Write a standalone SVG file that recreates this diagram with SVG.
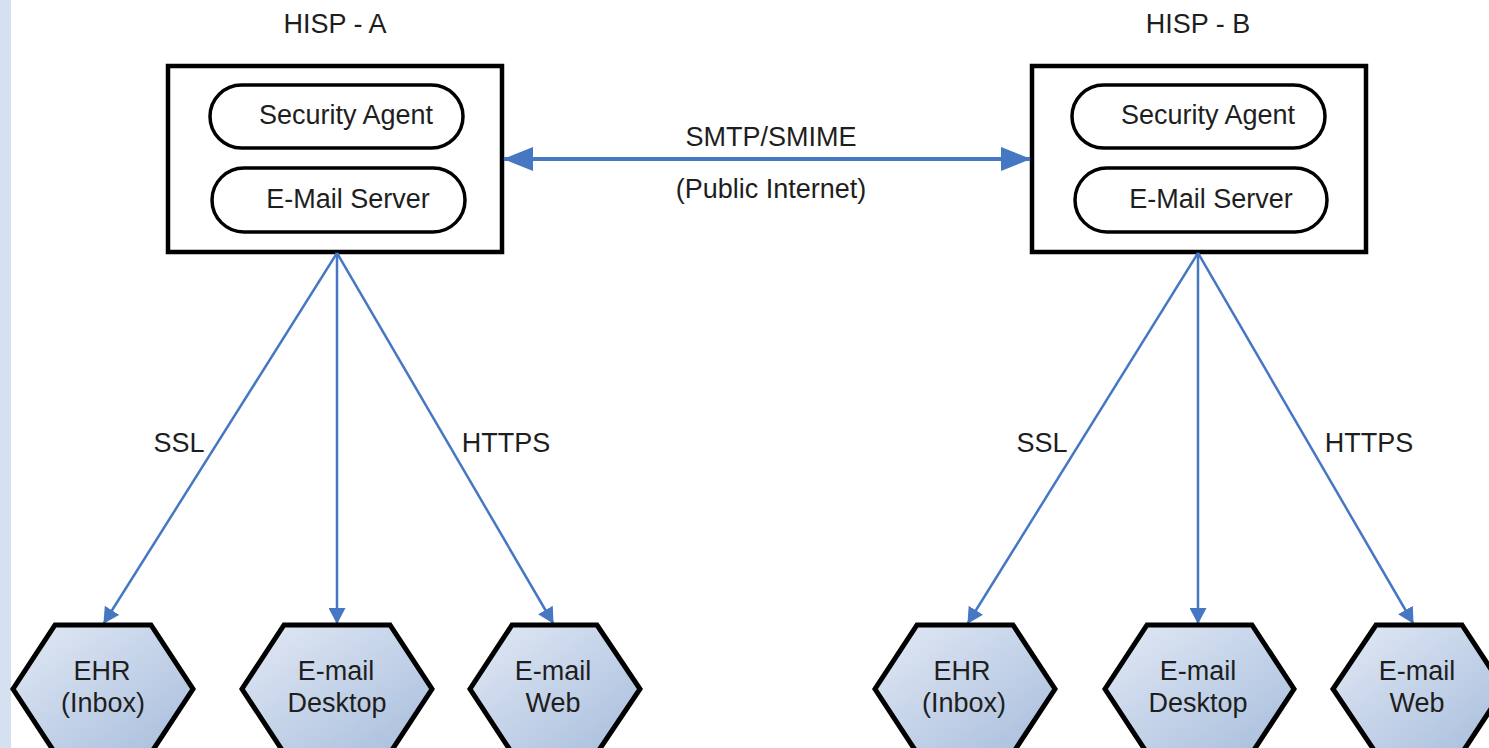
<svg xmlns="http://www.w3.org/2000/svg" width="1489" height="748" viewBox="0 0 1489 748">
  <defs>
    <linearGradient id="hexFill" x1="0" y1="0" x2="1" y2="1">
      <stop offset="0" stop-color="#e2e9f5"/>
      <stop offset="1" stop-color="#a7bddc"/>
    </linearGradient>
    <marker id="arrowSmall" markerUnits="userSpaceOnUse" markerWidth="16" markerHeight="17" refX="15" refY="8.5" orient="auto">
      <path d="M0,0 L16,8.5 L0,17 z" fill="#4677c2"/>
    </marker>
    <marker id="arrowBig" markerUnits="userSpaceOnUse" markerWidth="30" markerHeight="24" refX="29" refY="12" orient="auto-start-reverse">
      <path d="M0,0 L30,12 L0,24 z" fill="#4677c2"/>
    </marker>
  </defs>
  <style>
    text { font-family: "Liberation Sans", Arial, sans-serif; font-size: 27px; fill: #1e1e1e; text-anchor: middle; }
    .box { fill: #ffffff; stroke: #000000; stroke-width: 4.5; }
    .pill { fill: #ffffff; stroke: #000000; stroke-width: 3.5; }
    .hex { fill: url(#hexFill); stroke: #000000; stroke-width: 5; stroke-linejoin: miter; }
    .conn { fill: none; stroke: #4677c2; stroke-width: 2.5; }
    .bus { fill: none; stroke: #4677c2; stroke-width: 4; }
  </style>

  <rect x="0" y="0" width="1489" height="748" fill="#ffffff"/>
  <rect x="0" y="0" width="11" height="748" fill="#d5e0f0"/>

  <g id="hisp-a">
    <text x="335" y="33">HISP - A</text>
    <rect class="box" x="168" y="66" width="334" height="186"/>
    <g id="hisp-a-security-agent">
      <rect class="pill" x="210" y="85" width="253" height="63" rx="31.5"/>
      <text x="346" y="124">Security Agent</text>
    </g>
    <g id="hisp-a-email-server">
      <rect class="pill" x="212" y="168" width="253" height="64" rx="32"/>
      <text x="348" y="208">E-Mail Server</text>
    </g>
  </g>

  <g id="hisp-b">
    <text x="1198" y="33">HISP - B</text>
    <rect class="box" x="1032" y="66" width="334" height="186"/>
    <g id="hisp-b-security-agent">
      <rect class="pill" x="1072" y="85" width="253" height="63" rx="31.5"/>
      <text x="1208" y="124">Security Agent</text>
    </g>
    <g id="hisp-b-email-server">
      <rect class="pill" x="1075" y="168" width="252" height="64" rx="32"/>
      <text x="1211" y="208">E-Mail Server</text>
    </g>
  </g>

  <g id="connectors">
    <line class="bus" x1="504" y1="159" x2="1030" y2="159" marker-start="url(#arrowBig)" marker-end="url(#arrowBig)"/>
    <text x="771" y="146">SMTP/SMIME</text>
    <text x="771" y="198">(Public Internet)</text>

    <line class="conn" x1="337" y1="253" x2="104" y2="623" marker-end="url(#arrowSmall)"/>
    <line class="conn" x1="337" y1="253" x2="337" y2="623" marker-end="url(#arrowSmall)"/>
    <line class="conn" x1="337" y1="253" x2="553" y2="623" marker-end="url(#arrowSmall)"/>
    <text x="179" y="452">SSL</text>
    <text x="506" y="452">HTTPS</text>

    <line class="conn" x1="1198" y1="253" x2="968" y2="623" marker-end="url(#arrowSmall)"/>
    <line class="conn" x1="1198" y1="253" x2="1198" y2="623" marker-end="url(#arrowSmall)"/>
    <line class="conn" x1="1198" y1="253" x2="1413" y2="623" marker-end="url(#arrowSmall)"/>
    <text x="1042" y="452">SSL</text>
    <text x="1369" y="452">HTTPS</text>
  </g>

  <g id="a-ehr">
    <polygon class="hex" points="55,625 151,625 193,689 151,753 55,753 13,689"/>
    <text x="102" y="680">EHR</text>
    <text x="103" y="712">(Inbox)</text>
  </g>
  <g id="a-email-desktop">
    <polygon class="hex" points="284,625 390,625 432,689 390,753 284,753 242,689"/>
    <text x="336" y="680">E-mail</text>
    <text x="337" y="712">Desktop</text>
  </g>
  <g id="a-email-web">
    <polygon class="hex" points="512,625 597,625 640,689 597,753 512,753 470,689"/>
    <text x="553" y="680">E-mail</text>
    <text x="553" y="712">Web</text>
  </g>

  <g id="b-ehr">
    <polygon class="hex" points="917,625 1013,625 1055,689 1013,753 917,753 875,689"/>
    <text x="962" y="680">EHR</text>
    <text x="964" y="712">(Inbox)</text>
  </g>
  <g id="b-email-desktop">
    <polygon class="hex" points="1147,625 1252,625 1294,689 1252,753 1147,753 1105,689"/>
    <text x="1198" y="680">E-mail</text>
    <text x="1198" y="712">Desktop</text>
  </g>
  <g id="b-email-web">
    <polygon class="hex" points="1376,625 1462,625 1504,689 1462,753 1376,753 1333,689"/>
    <text x="1417" y="680">E-mail</text>
    <text x="1417" y="712">Web</text>
  </g>
</svg>
